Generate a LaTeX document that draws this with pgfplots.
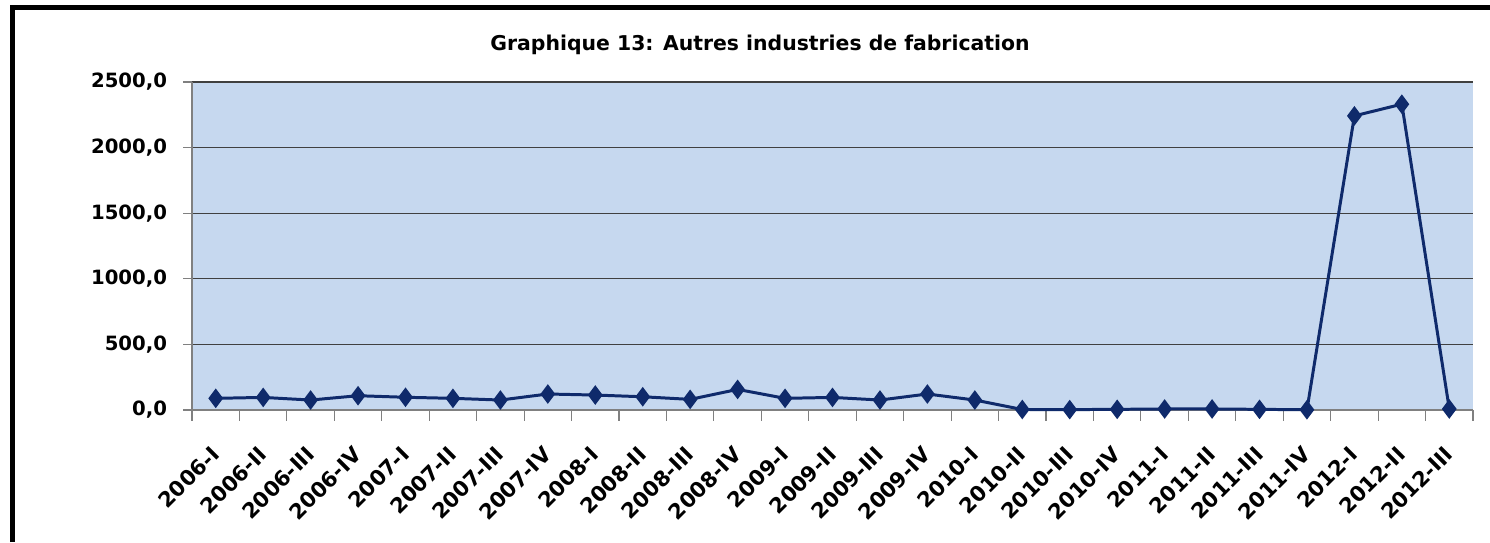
\documentclass[border=0pt]{standalone}
\usepackage{pgfplots}
\pgfplotsset{compat=1.18}
\usepackage{fontspec}
\setmainfont{DejaVu Sans}

\definecolor{plotbg}{HTML}{C6D8EF}
\definecolor{serie}{HTML}{0F2A6B}
\definecolor{axisgray}{HTML}{808080}

\begin{document}
\begin{tikzpicture}[x=1cm,y=1cm]
	% cadre de la page : 1 px = 0.02 cm
	\path[use as bounding box] (0,0) rectangle (29.8,10.84);
	\fill[white] (0,0) rectangle (29.8,10.84);
	\draw[line width=0.1cm] (0.25,0) -- (0.25,10.7) -- (29.8,10.7);
	\node[font=\bfseries\fontsize{11.6}{13}\selectfont] at (15.2,9.95)
		{Graphique 13: Autres industries de fabrication};
	\begin{axis}[
		at={(3.84cm,2.64cm)}, anchor=south west,
		scale only axis,
		width=25.62cm, height=6.56cm,
		xmin=-0.5, xmax=26.5,
		ymin=0, ymax=2500,
		ytick={0,500,...,2500},
		xtick={0,...,26},
		minor xtick={-0.5,0.5,...,26.5},
		xticklabels={2006-I,2006-II,2006-III,2006-IV,2007-I,2007-II,2007-III,2007-IV,
			2008-I,2008-II,2008-III,2008-IV,2009-I,2009-II,2009-III,2009-IV,
			2010-I,2010-II,2010-III,2010-IV,2011-I,2011-II,2011-III,2011-IV,
			2012-I,2012-II,2012-III},
		xticklabel style={yshift=-0.52cm, xshift=-0.12cm, rotate=45, anchor=north east,
			font=\bfseries\fontsize{12}{13}\selectfont, inner sep=0pt},
		yticklabel style={font=\bfseries\fontsize{11.2}{12}\selectfont, xshift=-0.2cm},
		/pgf/number format/assume math mode=true,
		y tick label style={/pgf/number format/.cd, fixed, fixed zerofill, precision=1, use comma, 1000 sep={}},
		major x tick style={draw=none},
		minor x tick style={axisgray, line width=0.6pt},
		y tick style={axisgray, line width=0.6pt},
		tick align=outside,
		major tick length=5pt, minor tick length=6pt,
		axis x line*=bottom, axis y line*=left,
		axis line style={axisgray, line width=0.8pt, -},
		ymajorgrids,
		grid style={black!75, line width=0.7pt},
		axis background/.style={fill=plotbg},
		clip=false,
		]
		\addplot[color=serie, line width=1.7pt, mark=diamond*, mark size=4.2pt]
		coordinates {
			(0,89)(1,96)(2,76)(3,109)(4,97)(5,89)(6,76)(7,122)
			(8,114)(9,101)(10,81)(11,157)(12,89)(13,96)(14,76)(15,122)
			(16,76)(17,4)(18,3)(19,5)(20,8)(21,8)(22,5)(23,2)
			(24,2242)(25,2331)(26,8)
		};
	\end{axis}
\end{tikzpicture}
\end{document}
